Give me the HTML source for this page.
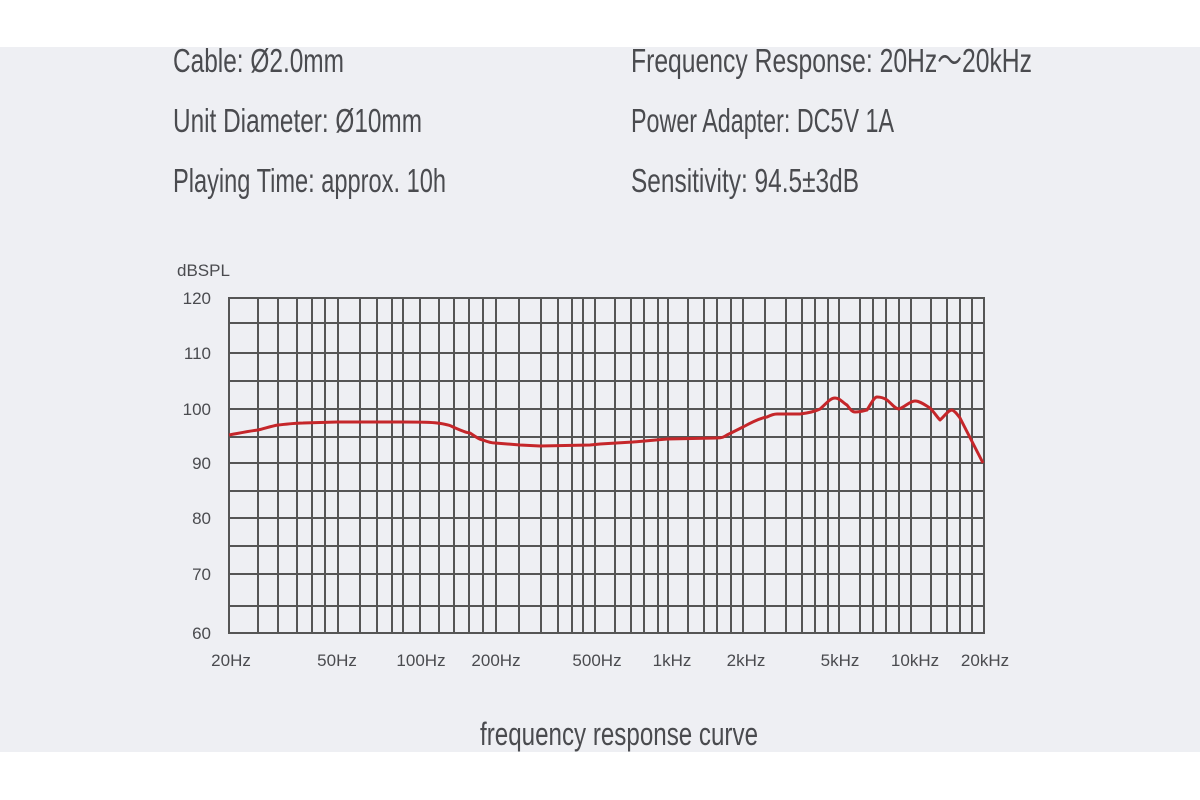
<!DOCTYPE html>
<html><head><meta charset="utf-8"><style>
html,body{margin:0;padding:0;background:#fff;}
svg{display:block;}
</style></head><body>
<svg width="1200" height="800" viewBox="0 0 1200 800" xmlns="http://www.w3.org/2000/svg">
<rect x="0" y="0" width="1200" height="800" fill="#ffffff"/>
<rect x="0" y="47" width="1200" height="705" fill="#eeeff3"/>
<g font-family="'Liberation Sans Narrow','Liberation Sans',sans-serif" fill="#4a4b4f" font-size="33" lengthAdjust="spacingAndGlyphs">
<text x="173" y="72" textLength="171" lengthAdjust="spacingAndGlyphs">Cable: Ø2.0mm</text>
<text x="173" y="132" textLength="249" lengthAdjust="spacingAndGlyphs">Unit Diameter: Ø10mm</text>
<text x="173" y="192" textLength="273" lengthAdjust="spacingAndGlyphs">Playing Time: approx. 10h</text>
<text x="631" y="72" textLength="401" lengthAdjust="spacingAndGlyphs">Frequency Response: 20Hz～20kHz</text>
<text x="631" y="132" textLength="263" lengthAdjust="spacingAndGlyphs">Power Adapter: DC5V 1A</text>
<text x="631" y="192" textLength="228" lengthAdjust="spacingAndGlyphs">Sensitivity: 94.5±3dB</text>
<text x="480" y="745" textLength="278" lengthAdjust="spacingAndGlyphs" font-size="32">frequency response curve</text>
</g>
<g stroke="#555" stroke-width="2" fill="none">
<rect x="229" y="298" width="755" height="335"/>
<path d="M229 323H984M229 353H984M229 381H984M229 409H984M229 437H984M229 463H984M229 491H984M229 518H984M229 546H984M229 574H984M229 606H984"/>
<path id="v" d="M258 298V633M278 298V633M297 298V633M312 298V633M325 298V633M338 298V633M360 298V633M377 298V633M392 298V633M403 298V633M420 298V633M439 298V633M454 298V633M469 298V633M483 298V633M496 298V633M519 298V633M541 298V633M558 298V633M572 298V633M583 298V633M595 298V633M615 298V633M631 298V633M644 298V633M658 298V633M668 298V633M688 298V633M704 298V633M717 298V633M731 298V633M743 298V633M765 298V633M786 298V633M802 298V633M815 298V633M828 298V633M839 298V633M860 298V633M873 298V633M886 298V633M899 298V633M911 298V633M931 298V633M947 298V633M960 298V633M972 298V633"/>
</g>
<path d="M229 435 C240 433,250 431,258 430 C266 428,272 426,278 425 C288 424,296 423,303 423 L337 422 L403 422 C420 422,430 422,437 423 C445 424,450 425,453 427 C460 430,466 433,470 433 C476 437,480 440,483 440 C488 442,492 443,495 443 L520 445 L540 446 L590 445 L600 444 L633 442 L667 439 L717 438 C722 438,724 437,727 435 L743 427 C752 422,760 418,767 417 C771 415,774 414,777 414 L800 414 C808 413,814 412,820 409 C826 404,830 398,835 398 C840 398,843 403,847 405 C850 409,852 412,855 412 C860 412,863 411,867 410 C871 404,874 397,877 397 C881 397,884 398,887 400 C892 404,895 409,899 409 C905 407,910 401,915 401 C920 401,925 405,930 408 C934 412,937 417,940 420 C944 417,948 410,952 410 C955 411,957 414,960 418 L983 463" fill="none" stroke="#c5262a" stroke-width="3" stroke-linejoin="round"/>
<g font-family="'Liberation Sans Narrow','Liberation Sans',sans-serif" fill="#4a4b4f" font-size="17">
<text x="177" y="276">dBSPL</text>
<g text-anchor="end">
<text x="211" y="304">120</text>
<text x="211" y="359">110</text>
<text x="211" y="415">100</text>
<text x="211" y="469">90</text>
<text x="211" y="524">80</text>
<text x="211" y="580">70</text>
<text x="211" y="639">60</text>
</g>
<g text-anchor="middle">
<text x="231" y="666">20Hz</text>
<text x="337" y="666">50Hz</text>
<text x="421" y="666">100Hz</text>
<text x="496" y="666">200Hz</text>
<text x="597" y="666">500Hz</text>
<text x="672" y="666">1kHz</text>
<text x="746" y="666">2kHz</text>
<text x="840" y="666">5kHz</text>
<text x="915" y="666">10kHz</text>
<text x="985" y="666">20kHz</text>
</g>
</g>
</svg>
</body></html>
